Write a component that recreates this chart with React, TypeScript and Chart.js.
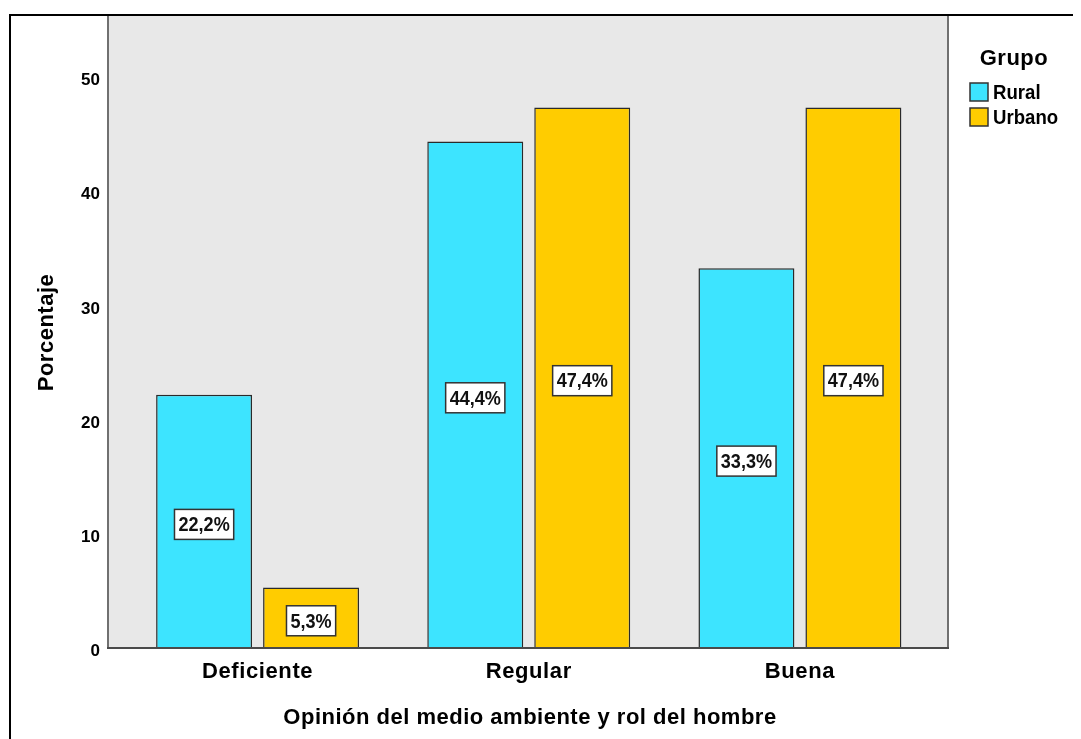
import React, { useEffect, useRef } from "react";
import { Chart, registerables } from "chart.js";

Chart.register(...registerables);

const categories = ["Deficiente", "Regular", "Buena"];
const ruralValues = [22.2, 44.4, 33.3];
const urbanValues = [5.3, 47.4, 47.4];
const seriesNames = ["Rural", "Urbano"];
const seriesColors = ["#3de4ff", "#ffcc00"];
const yTickValues = [0, 10, 20, 30, 40, 50];
const yTitle = "Porcentaje";
const xTitle = "Opinión del medio ambiente y rol del hombre";
const legendTitle = "Grupo";

const SANS = '"Liberation Sans", Arial, sans-serif';

// plot frame (canvas coords)
const FRAME_LEFT = 100;
const FRAME_RIGHT = 940;

function drawScaledText(ctx: any, txt: string, x: number, y: number, sx: number, align: string) {
  ctx.save();
  ctx.translate(x, y);
  ctx.scale(sx, 1);
  ctx.textAlign = align;
  ctx.fillText(txt, 0, 0);
  ctx.restore();
}

const decorPlugin = {
  id: "decor",
  beforeDraw(chart: any) {
    const { ctx, chartArea: a, width, height } = chart;
    ctx.save();
    ctx.fillStyle = "#ffffff";
    ctx.fillRect(0, 0, width, height);
    ctx.fillStyle = "#e8e8e8";
    ctx.fillRect(FRAME_LEFT, a.top, FRAME_RIGHT - FRAME_LEFT, a.bottom - a.top);
    ctx.restore();
  },
  afterDraw(chart: any) {
    const { ctx, chartArea: a, width, height } = chart;
    const xs = chart.scales.x;
    ctx.save();
    // plot border
    ctx.strokeStyle = "#707070";
    ctx.lineWidth = 2;
    ctx.strokeRect(FRAME_LEFT, a.top, FRAME_RIGHT - FRAME_LEFT, a.bottom - a.top);
    ctx.strokeStyle = "#4a4a4a";
    ctx.beginPath();
    ctx.moveTo(FRAME_LEFT - 1, a.bottom);
    ctx.lineTo(FRAME_RIGHT + 1, a.bottom);
    ctx.stroke();
    // outer frame
    ctx.strokeStyle = "#000000";
    ctx.lineWidth = 2;
    ctx.strokeRect(2, 7, width + 20, height + 20);

    // value labels
    ctx.font = `bold 21px ${SANS}`;
    ctx.textBaseline = "middle";
    chart.data.datasets.forEach((ds: any, di: number) => {
      const meta = chart.getDatasetMeta(di);
      meta.data.forEach((el: any, i: number) => {
        const v = ds.data[i];
        const txt = v.toFixed(1).replace(".", ",") + "%";
        const cx = el.x;
        const cy = (el.y + el.base) / 2 + 3;
        const sx = 0.86;
        const w = ctx.measureText(txt).width * sx + 8;
        const h = 30;
        ctx.fillStyle = "#ffffff";
        ctx.fillRect(cx - w / 2, cy - h / 2, w, h);
        ctx.strokeStyle = "#333333";
        ctx.lineWidth = 1.5;
        ctx.strokeRect(cx - w / 2, cy - h / 2, w, h);
        ctx.fillStyle = "#111111";
        drawScaledText(ctx, txt, cx, cy + 1, sx, "center");
      });
    });

    // category labels
    ctx.fillStyle = "#000000";
    ctx.font = `bold 22px ${SANS}`;
    ctx.textAlign = "center";
    ctx.textBaseline = "middle";
    (ctx as any).letterSpacing = "0.6px";
    categories.forEach((c, i) => {
      ctx.fillText(c, xs.getPixelForValue(i), 664);
    });

    // axis titles
    ctx.font = `bold 22px ${SANS}`;
    (ctx as any).letterSpacing = "0.5px";
    ctx.fillText(xTitle, (FRAME_LEFT + FRAME_RIGHT) / 2 + 2, 710);
    ctx.save();
    ctx.translate(39, (a.top + a.bottom) / 2 + 1);
    ctx.rotate(-Math.PI / 2);
    ctx.fillText(yTitle, 0, 0);
    ctx.restore();

    // legend
    ctx.font = `bold 22px ${SANS}`;
    ctx.textAlign = "center";
    ctx.fillText(legendTitle, 1006, 51);
    (ctx as any).letterSpacing = "0px";
    ctx.font = `bold 20px ${SANS}`;
    seriesNames.forEach((name, i) => {
      const y = 75 + i * 25;
      ctx.fillStyle = seriesColors[i];
      ctx.fillRect(962, y, 18, 18);
      ctx.strokeStyle = "#333333";
      ctx.lineWidth = 1.5;
      ctx.strokeRect(962, y, 18, 18);
      ctx.fillStyle = "#000000";
      drawScaledText(ctx, name, 985, y + 10, 0.93, "left");
    });
    ctx.restore();
  },
};

export default function App() {
  const ref = useRef<HTMLCanvasElement>(null);
  useEffect(() => {
    const common = {
      borderColor: "#2a2a2a",
      borderWidth: 1.5,
      categoryPercentage: 0.789,
      barPercentage: 0.897,
    };
    const chart = new Chart(ref.current!, {
      type: "bar",
      data: {
        labels: categories,
        datasets: [
          { label: seriesNames[0], data: ruralValues, backgroundColor: seriesColors[0], ...common },
          { label: seriesNames[1], data: urbanValues, backgroundColor: seriesColors[1], ...common },
        ],
      },
      options: {
        animation: false,
        responsive: false,
        devicePixelRatio: 1,
        layout: { padding: { top: 7, right: 145.5, left: 0, bottom: 0 } },
        plugins: { legend: { display: false }, tooltip: { enabled: false } },
        scales: {
          x: {
            grid: { display: false, drawTicks: false },
            border: { display: false },
            ticks: { display: false },
            afterFit(s: any) {
              s.height = 91;
              s.paddingLeft = 0;
              s.paddingRight = 0;
            },
          },
          y: {
            min: 0,
            max: 55.5,
            grid: { display: false, drawTicks: false },
            border: { display: false },
            afterBuildTicks(s: any) {
              s.ticks = yTickValues.map((v) => ({ value: v }));
            },
            ticks: {
              color: "#000000",
              font: { family: SANS, size: 17, weight: "bold" },
              padding: 22,
              labelOffset: 3,
            },
            afterFit(s: any) {
              s.width = 114;
              s.paddingTop = 0;
              s.paddingBottom = 0;
            },
          },
        },
      },
      plugins: [decorPlugin],
    });
    return () => chart.destroy();
  }, []);
  return <canvas ref={ref} width={1073} height={731} style={{ display: "block" }} />;
}
